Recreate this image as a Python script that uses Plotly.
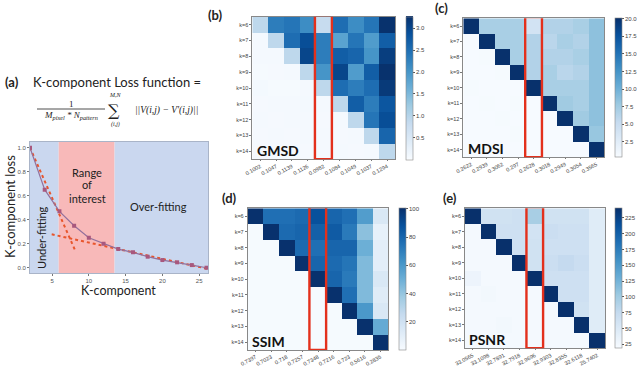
import plotly.graph_objects as go

W, H = 640, 369

# ---------------- data ----------------
k_comp = [2, 4, 6, 8, 10, 12, 14, 16, 18, 20, 22, 24, 26]
k_loss = [1.0, 0.65, 0.47, 0.35, 0.25, 0.2, 0.155, 0.128, 0.092, 0.064, 0.045, 0.022, 0.0]
fit1_x = [2, 8.1]
fit1_y = [1.0, 0.15]
fit2_x = [4.95, 26.2]
fit2_y = [0.278, -0.01]
under_range = [2, 5.9]
interest_range = [5.9, 13.5]
over_range = [13.5, 26.2]

k_labels = ["k=6", "k=7", "k=8", "k=9", "k=10", "k=11", "k=12", "k=13", "k=14"]

gmsd_ticks = ["0.1002", "0.1047", "0.1139", "0.1126", "0.0982", "0.1084", "0.1049", "0.1037", "0.1294"]
mdsi_ticks = ["0.2622", "0.2939", "0.3062", "0.297", "0.2628", "0.3018", "0.2949", "0.3054", "0.3565"]
ssim_ticks = ["0.7397", "0.7023", "0.718", "0.7257", "0.7348", "0.7216", "0.723", "0.5616", "0.2835"]
psnr_ticks = ["33.0565", "33.1098", "32.7891", "32.7918", "32.9696", "32.9303", "32.8355", "32.6118", "25.7402"]

gmsd = [
    [0.9, 2.3, 2.4, 2.1, 0.8, 2.5, 2.1, 2.4, 3.25],
    [0.05, 0.9, 2.5, 2.9, 2.3, 1.8, 2.4, 1.9, 2.7],
    [0.05, 0.05, 0.9, 3.0, 2.3, 2.7, 2.6, 2.0, 3.1],
    [0.03, 0.04, 0.05, 0.9, 2.0, 3.0, 1.9, 2.7, 3.25],
    [0.06, 0.03, 0.03, 0.05, 0.9, 2.5, 2.3, 2.5, 3.15],
    [0.04, 0.05, 0.05, 0.06, 0.05, 0.9, 2.7, 2.3, 2.8],
    [0.05, 0.04, 0.05, 0.05, 0.04, 0.05, 0.9, 2.4, 2.9],
    [0.04, 0.05, 0.04, 0.05, 0.05, 0.04, 0.05, 0.9, 2.6],
    [0.04, 0.05, 0.05, 0.04, 0.05, 0.05, 0.04, 0.05, 0.9],
]
mdsi = [
    [20, 7.0, 7.0, 7.0, 4.0, 6.5, 6.5, 7.0, 8.5],
    [0.4, 20, 7.0, 7.0, 6.5, 6.0, 7.0, 6.5, 8.5],
    [0.4, 0.5, 20, 7.0, 6.5, 6.5, 6.5, 7.0, 8.5],
    [0.4, 0.4, 0.5, 20, 6.5, 7.0, 6.0, 6.5, 8.5],
    [0.5, 0.4, 0.4, 0.4, 20, 7.0, 7.0, 7.0, 8.5],
    [0.4, 0.5, 0.4, 0.5, 0.4, 20, 7.5, 7.0, 8.5],
    [0.4, 0.4, 0.5, 0.4, 0.4, 0.4, 20, 7.5, 8.5],
    [0.4, 0.4, 0.4, 0.5, 0.4, 0.4, 0.4, 20, 8.0],
    [0.4, 0.4, 0.4, 0.4, 0.4, 0.4, 0.4, 0.4, 20],
]
ssim = [
    [100, 76, 76, 78, 88, 80, 76, 58, 15],
    [1, 100, 78, 80, 82, 84, 72, 42, 8],
    [1, 1, 100, 78, 76, 80, 80, 50, 10],
    [1, 1, 1, 100, 80, 78, 74, 45, 10],
    [1, 1, 1, 1, 100, 80, 72, 45, 15],
    [1, 1, 1, 1, 1, 100, 76, 45, 12],
    [1, 1, 1, 1, 1, 1, 100, 60, 15],
    [1, 1, 1, 1, 1, 1, 1, 100, 52],
    [1, 1, 1, 1, 1, 1, 1, 1, 100],
]
psnr = [
    [240, 62, 62, 65, 95, 62, 62, 62, 45],
    [22, 240, 65, 65, 60, 68, 65, 65, 45],
    [22, 22, 240, 65, 62, 65, 65, 65, 45],
    [22, 22, 22, 240, 62, 68, 75, 68, 45],
    [30, 22, 22, 22, 240, 65, 65, 65, 45],
    [22, 24, 22, 22, 22, 240, 65, 65, 45],
    [22, 22, 22, 22, 22, 22, 240, 62, 45],
    [22, 22, 24, 22, 22, 22, 22, 240, 45],
    [22, 22, 22, 22, 22, 22, 22, 22, 240],
]

# ---------------- helpers ----------------
def px(x):
    return x / W

def py(y):
    return 1 - y / H

fig = go.Figure()

TICKFONT = dict(family="Liberation Sans", size=6, color="#555555")
HMFONT = dict(family="Liberation Sans", size=5.5, color="#444444")
LABFONT = "Lato"

# ---------------- panel (a) ----------------
fig.add_trace(go.Scatter(x=fit1_x, y=fit1_y, mode="lines", xaxis="x", yaxis="y",
                         line=dict(color="#e8552c", width=2, dash="dot"), showlegend=False))
fig.add_trace(go.Scatter(x=fit2_x, y=fit2_y, mode="lines", xaxis="x", yaxis="y",
                         line=dict(color="#e8552c", width=2, dash="dot"), showlegend=False))
fig.add_trace(go.Scatter(x=k_comp, y=k_loss, mode="lines+markers", xaxis="x", yaxis="y",
                         line=dict(color="#93709c", width=1.2),
                         marker=dict(color="#a8587e", size=4, symbol="square"), showlegend=False))

shapes = []
for rng, col in [(under_range, "#cad7ef"), (interest_range, "#f8b9b9"), (over_range, "#cad7ef")]:
    shapes.append(dict(type="rect", xref="x", yref="y domain", x0=rng[0], x1=rng[1], y0=0, y1=1,
                       fillcolor=col, line=dict(width=0), layer="below"))

# ---------------- heatmaps ----------------
panels = [
    (gmsd, gmsd_ticks, 0, 3.27, [0.5, 1.0, 1.5, 2.0, 2.5, 3.0], ".1f", (252.3, 395), (16.7, 159.3), 406, "GMSD"),
    (mdsi, mdsi_ticks, 0.3, 20.05, [2.5, 5, 7.5, 10, 12.5, 15, 17.5, 20], ".1f", (463.3, 604.3), (18.3, 157.3), 615, "MDSI"),
    (ssim, ssim_ticks, 0, 100.5, [20, 40, 60, 80, 100], "d", (247.7, 388.3), (208.3, 350), 399.3, "SSIM"),
    (psnr, psnr_ticks, 18.7, 240, [25, 50, 75, 100, 125, 150, 175, 200, 225], "d", (465, 605), (208.3, 348.3), 615, "PSNR"),
]

layout_axes = {}
annotations = []
idx = list(range(9))
for i, (z, bt, zmin, zmax, cbt, fmt, xd, yd, cbx, name) in enumerate(panels):
    n = i + 2
    xa, ya = f"x{n}", f"y{n}"
    fig.add_trace(go.Heatmap(
        z=z, x=idx, y=idx, xaxis=xa, yaxis=ya, colorscale="Blues", zmin=zmin, zmax=zmax,
        colorbar=dict(x=px(cbx), xanchor="left", y=py((yd[0] + yd[1]) / 2), yanchor="middle",
                      len=(yd[1] - yd[0]) / H, lenmode="fraction", thickness=7, xpad=0, ypad=0,
                      outlinewidth=0.6, outlinecolor="#888888", ticks="outside", ticklen=2,
                      tickwidth=0.6, tickcolor="#555555", tickvals=cbt, tickformat=fmt,
                      tickfont=dict(family="Liberation Sans", size=6, color="#444444"))))
    layout_axes[f"xaxis{n}"] = dict(domain=[px(xd[0]), px(xd[1])], anchor=ya, range=[-0.5, 8.5],
                                    tickvals=idx, ticktext=bt, tickangle=-28, ticks="outside", ticklen=1,
                                    tickwidth=0.6, tickcolor="#777", tickfont=HMFONT,
                                    showline=True, linecolor="#888", linewidth=0.8, mirror=True,
                                    showgrid=False, zeroline=False)
    layout_axes[f"yaxis{n}"] = dict(domain=[py(yd[1]), py(yd[0])], anchor=xa, range=[8.5, -0.5],
                                    tickvals=idx, ticktext=k_labels, ticks="outside", ticklen=2,
                                    tickwidth=0.6, tickcolor="#777", tickfont=HMFONT,
                                    showline=True, linecolor="#888", linewidth=0.8, mirror=True,
                                    showgrid=False, zeroline=False)
    layout_axes[f"xaxis{n + 4}"] = dict(overlaying=xa, side="top", anchor=ya, range=[-0.5, 8.5],
                                        tickvals=idx, ticktext=k_labels, tickangle=-30, ticks="outside",
                                        ticklen=1, tickwidth=0.6, tickcolor="#777", tickfont=HMFONT,
                                        showgrid=False, zeroline=False, showline=False)
    shapes.append(dict(type="rect", xref=xa, yref=ya, x0=3.45, x1=4.52, y0=-0.58, y1=8.5,
                       line=dict(color="#e3301c", width=2.4), fillcolor="rgba(0,0,0,0)"))
    annotations.append(dict(text=f"<b>{name}</b>", xref=xa, yref=ya, x=-0.35, y=7.95,
                            xanchor="left", yanchor="middle", showarrow=False,
                            font=dict(family=LABFONT, size=14, color="#111")))

# ---------------- panel (a) text ----------------
def ann(text, x, y, size, **kw):
    d = dict(text=text, x=px(x), y=py(y), xref="paper", yref="paper", showarrow=False,
             xanchor="center", yanchor="middle",
             font=dict(family=kw.pop("family", LABFONT), size=size, color=kw.pop("color", "#222")))
    d.update(kw)
    annotations.append(d)

ann("<b>(a)</b>", 12, 82, 13)
ann("K-component Loss function =", 117, 82, 13)
ann("1", 71, 104, 9, family="Liberation Serif")
ann("<i>M</i><sub><i>pixel</i></sub><i> * N</i><sub><i>pattern</i></sub>", 71, 115, 9, family="Liberation Serif")
ann("∑", 114, 111, 16, family="DejaVu Serif")
ann("<i>M,N</i>", 115, 95, 6, family="Liberation Serif")
ann("<i>(i,j)</i>", 115, 124, 6, family="Liberation Serif")
ann("<i>||V(i,j) − V′(i,j)||</i>", 166, 111, 9.5, family="Liberation Serif")
shapes.append(dict(type="line", xref="paper", yref="paper", x0=px(37), x1=px(105), y0=py(109), y1=py(109),
                   line=dict(color="#222", width=0.8)))

ann("Range", 87, 172, 11)
ann("of", 87, 185, 11)
ann("interest", 87, 198, 11)
ann("Over-fitting", 158, 206, 11)
ann("Under-fitting", 42, 238, 11, textangle=-90)
ann("K-component loss", 10, 207, 13, textangle=-90)
ann("K-component", 118, 290.5, 12.5)

ann("<b>(b)</b>", 215, 15, 13)
ann("<b>(c)</b>", 441, 8, 13)
ann("<b>(d)</b>", 229, 198, 13)
ann("<b>(e)</b>", 450, 198, 13)

fig.update_layout(
    width=W, height=H, margin=dict(l=0, r=0, t=0, b=0, autoexpand=False),
    paper_bgcolor="white", plot_bgcolor="white", showlegend=False,
    xaxis=dict(domain=[px(30), px(208)], anchor="y", range=[2, 26.2], tickvals=[5, 10, 15, 20, 25],
               ticks="outside", ticklen=2, tickwidth=0.6, tickcolor="#777", tickfont=TICKFONT,
               showline=True, linecolor="#a9b4c8", linewidth=0.8, mirror=True,
               showgrid=False, zeroline=False),
    yaxis=dict(domain=[py(273), py(141.7)], anchor="x", range=[-0.044, 1.05],
               tickvals=[0, 0.2, 0.4, 0.6, 0.8, 1.0], tickformat=".1f",
               ticks="outside", ticklen=2, tickwidth=0.6, tickcolor="#777", tickfont=TICKFONT,
               showline=True, linecolor="#a9b4c8", linewidth=0.8, mirror=True,
               showgrid=False, zeroline=False),
    shapes=shapes, annotations=annotations,
    **layout_axes,
)

fig.write_html("out.html", config={"displayModeBar": False},
               post_script="document.body.style.margin='0px';document.body.style.overflow='hidden';")
